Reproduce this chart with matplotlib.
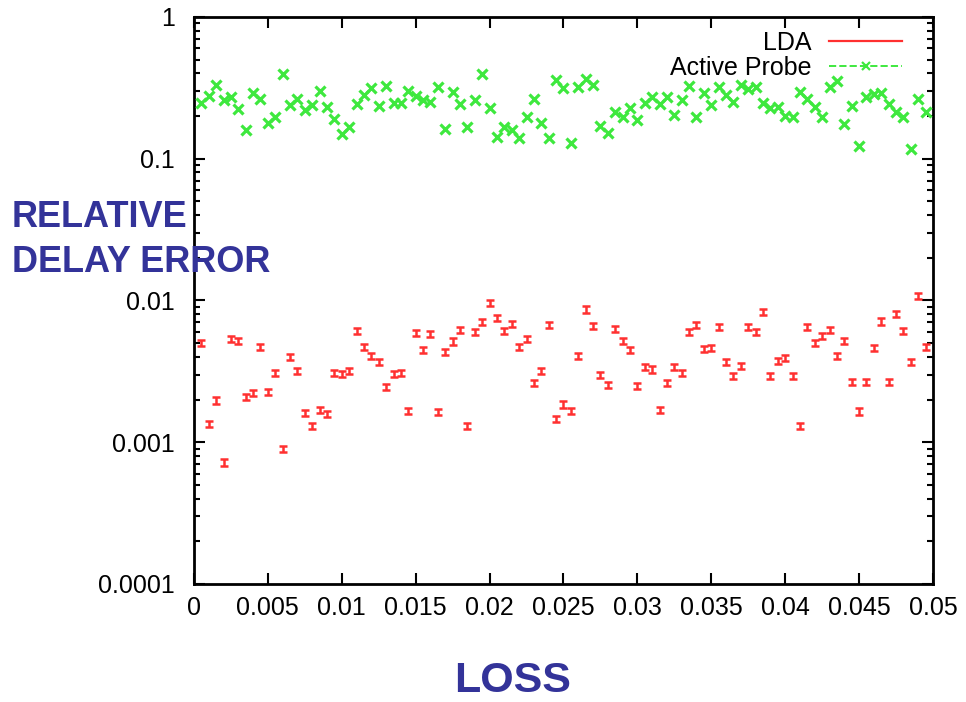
import numpy as np
import matplotlib
matplotlib.use("Agg")
from matplotlib import pyplot as plt
from matplotlib.lines import Line2D
from matplotlib.ticker import FixedLocator, FuncFormatter

plt.rcParams['font.family'] = ['Liberation Sans', 'DejaVu Sans']

# Loss rate steps (0.0005 apart)
loss = np.arange(1, 100) * 0.0005

# Relative delay error, LDA (red)
lda = [0.00502, 0.00134, 0.00197, 0.00072, 0.00539, 0.00522, 0.00210, 0.00223, 0.00468, 0.00228,
       0.00309, 0.00090, 0.00398, 0.00320, 0.00160, 0.00131, 0.00170, 0.00158, 0.00309, 0.00304,
       0.00320, 0.00614, 0.00468, 0.00404, 0.00371, 0.00244, 0.00304, 0.00309, 0.00167, 0.00591,
       0.00448, 0.00582, 0.00163, 0.00436, 0.00514, 0.00624, 0.00131, 0.00597, 0.00703, 0.00963,
       0.00750, 0.00614, 0.00684, 0.00473, 0.00536, 0.00262, 0.00320, 0.00674, 0.00146, 0.00185,
       0.00167, 0.00409, 0.00864, 0.00659, 0.00299, 0.00254, 0.00631, 0.00522, 0.00451, 0.00251,
       0.00338, 0.00326, 0.00170, 0.00261, 0.00342, 0.00309, 0.00597, 0.00674, 0.00456, 0.00463,
       0.00648, 0.00367, 0.00292, 0.00344, 0.00648, 0.00597, 0.00836, 0.00295, 0.00377, 0.00391,
       0.00295, 0.00131, 0.00648, 0.00502, 0.00566, 0.00624, 0.00409, 0.00522, 0.00268, 0.00165,
       0.00268, 0.00460, 0.00711, 0.00265, 0.00806, 0.00614, 0.00367, 0.01072, 0.00468]

# Relative delay error, Active Probe (green)
probe = [0.248, 0.277, 0.331, 0.259, 0.271, 0.223, 0.159, 0.289, 0.263, 0.180,
         0.198, 0.396, 0.239, 0.263, 0.220, 0.239, 0.302, 0.232, 0.192, 0.149,
         0.168, 0.243, 0.281, 0.317, 0.235, 0.326, 0.246, 0.248, 0.302, 0.278,
         0.259, 0.250, 0.319, 0.162, 0.294, 0.242, 0.168, 0.259, 0.394, 0.227,
         0.143, 0.168, 0.159, 0.139, 0.198, 0.262, 0.180, 0.139, 0.359, 0.317,
         0.130, 0.322, 0.363, 0.331, 0.170, 0.153, 0.215, 0.196, 0.227, 0.189,
         0.246, 0.273, 0.242, 0.271, 0.203, 0.259, 0.326, 0.198, 0.289, 0.239,
         0.322, 0.281, 0.252, 0.331, 0.309, 0.319, 0.246, 0.227, 0.232, 0.200,
         0.196, 0.297, 0.262, 0.232, 0.198, 0.319, 0.355, 0.177, 0.235, 0.123,
         0.271, 0.285, 0.292, 0.243, 0.215, 0.196, 0.118, 0.263, 0.215]

x_ticks = [0, 0.005, 0.01, 0.015, 0.02, 0.025, 0.03, 0.035, 0.04, 0.045, 0.05]
y_ticks = [0.0001, 0.001, 0.01, 0.1, 1]

red = '#ff3030'
green = '#3ee83e'
blue = '#333399'

fig = plt.figure(figsize=(9.66, 7.02), dpi=100)
ax = fig.add_axes([0.2008, 0.1681, 0.7650, 0.8077])

# LDA drawn as tiny error bars
lda = np.asarray(lda)
err = np.vstack([lda * 0.05, lda * 0.05])
ax.errorbar(loss, lda, yerr=err, fmt='none', ecolor=red, elinewidth=1.8,
            capsize=3.2, capthick=1.8, zorder=3)

# Active probe as crosses
ax.plot(loss, probe, linestyle='none', marker='x', markersize=7.5,
        markeredgewidth=2.3, color=green, zorder=3)

ax.set_yscale('log')
ax.set_xlim(0, 0.05)
ax.set_ylim(0.0001, 1)
ax.xaxis.set_major_locator(FixedLocator(x_ticks))
ax.xaxis.set_major_formatter(FuncFormatter(lambda v, p: '%g' % v))
ax.yaxis.set_major_locator(FixedLocator(y_ticks))
ax.yaxis.set_major_formatter(FuncFormatter(lambda v, p: '%g' % v))

for side in ax.spines.values():
    side.set_linewidth(2)
ax.tick_params(which='both', direction='in', top=True, right=True, width=1.5)
ax.tick_params(which='major', length=8, labelsize=18)
ax.tick_params(which='minor', length=4)
ax.tick_params(axis='y', which='major', pad=14)
ax.tick_params(axis='x', which='major', pad=9)

# Legend: label left, sample right
handles = [Line2D([], [], color=red, lw=1.6),
           Line2D([], [], color=green, lw=1.4, ls='--', marker='x',
                  markersize=6, markeredgewidth=1.6)]
ax.legend(handles, ['LDA', 'Active Probe'], loc='upper right',
          bbox_to_anchor=(0.958, 0.976), frameon=False, markerfirst=False,
          fontsize=18, handlelength=2.9, handletextpad=0.7, labelspacing=0.05,
          borderpad=0, borderaxespad=0)

# Axis titles placed as free text like the slide
fig.text(0.0124, 0.677, 'RELATIVE', color=blue, fontsize=26,
         fontweight='bold', va='baseline', ha='left')
fig.text(0.0124, 0.613, 'DELAY ERROR', color=blue, fontsize=26,
         fontweight='bold', va='baseline', ha='left')
fig.text(0.531, 0.014, 'LOSS', color=blue, fontsize=31,
         fontweight='bold', va='baseline', ha='center')

fig.savefig('out.png', dpi=100)
plt.close(fig)
